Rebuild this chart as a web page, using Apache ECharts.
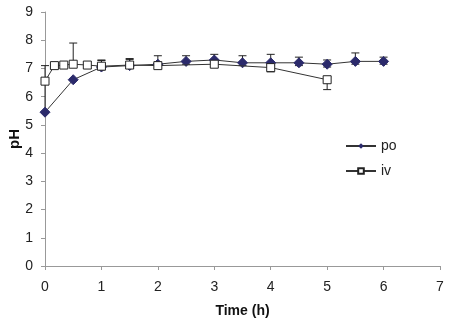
<!DOCTYPE html>
<html><head><meta charset="utf-8">
<script src="https://cdn.jsdelivr.net/npm/echarts@6/dist/echarts.min.js"></script>
<style>html,body{margin:0;padding:0;background:#fff}#c{width:450px;height:322px}</style>
</head><body><div id="c"></div>
<script>
const xTicks = [0,1,2,3,4,5,6,7];
const yTicks = [0,1,2,3,4,5,6,7,8,9];
const poTime = [0,0.5,1,1.5,2,2.5,3,3.5,4,4.5,5,5.5,6];
const poPH   = [5.45,6.6,7.05,7.1,7.15,7.25,7.3,7.2,7.2,7.2,7.15,7.25,7.25];
const poErrUp   = [1.1,0,0.25,0.25,0.3,0.2,0.2,0.25,0.3,0.2,0.15,0.3,0.15];
const poErrDown = [0,0,0.1,0.1,0.1,0.1,0.1,0.1,0.1,0.1,0.1,0.1,0.1];
const ivTime = [0,0.167,0.333,0.5,0.75,1,1.5,2,3,4,5];
const ivPH   = [6.55,7.1,7.12,7.15,7.12,7.08,7.12,7.1,7.15,7.03,6.6];
const ivErrUp   = [0.55,0,0,0.75,0,0.2,0.2,0.1,0.1,0.1,0.1];
const ivErrDown = [0,0,0,0,0,0.1,0.1,0.1,0.1,0.15,0.35];

function errData(t, v, up, dn){ return t.map((x,i)=>[x, v[i]-dn[i], v[i]+up[i], up[i], dn[i]]); }
function errRender(params, api){
  const x = api.value(0), lo = api.value(1), hi = api.value(2), up = api.value(3), dn = api.value(4);
  if (up===0 && dn===0) return;
  const pLo = api.coord([x, lo]), pHi = api.coord([x, hi]);
  const w = 4;
  const st = {stroke:'#222', lineWidth:1};
  const ch = [{type:'line', shape:{x1:pLo[0],y1:pLo[1],x2:pHi[0],y2:pHi[1]}, style:st}];
  if (up>0) ch.push({type:'line', shape:{x1:pHi[0]-w,y1:pHi[1],x2:pHi[0]+w,y2:pHi[1]}, style:st});
  if (dn>0) ch.push({type:'line', shape:{x1:pLo[0]-w,y1:pLo[1],x2:pLo[0]+w,y2:pLo[1]}, style:st});
  return {type:'group', children:ch};
}
const chart = echarts.init(document.getElementById('c'));
const font = 'Liberation Sans, Arial, sans-serif';
chart.setOption({
  animation:false,
  grid:{left:45,right:10,top:12,bottom:56,outerBoundsMode:'none',containLabel:false},
  legend:{
    orient:'vertical', left:340, top:134, itemGap:11, itemWidth:30, itemHeight:7,
    textStyle:{fontFamily:font,fontSize:14,color:'#222'},
    data:['po','iv']
  },
  graphic:[{
    type:'text', x:15, y:139, rotation:Math.PI/2,
    style:{text:'pH', font:'bold 15px Liberation Sans, Arial, sans-serif', fill:'#111', align:'center', verticalAlign:'middle'}
  }],
  xAxis:{
    type:'value', min:0, max:7, interval:1,
    name:'Time (h)', nameLocation:'middle', nameGap:38,
    nameTextStyle:{fontFamily:font,fontSize:14,fontWeight:'bold',color:'#111'},
    axisLine:{lineStyle:{color:'#999'}},
    axisTick:{show:true,length:4,lineStyle:{color:'#999'}},
    axisLabel:{fontFamily:font,fontSize:14,color:'#222',margin:14},
    splitLine:{show:false}
  },
  yAxis:{
    type:'value', min:0, max:9, interval:1,
    axisLine:{show:true,lineStyle:{color:'#999'}},
    axisTick:{show:true,length:4,lineStyle:{color:'#999'}},
    axisLabel:{fontFamily:font,fontSize:14,color:'#222',margin:12},
    splitLine:{show:false}
  },
  series:[
    {type:'custom', renderItem:errRender, data:errData(poTime,poPH,poErrUp,poErrDown), z:1, silent:true},
    {type:'custom', renderItem:errRender, data:errData(ivTime,ivPH,ivErrUp,ivErrDown), z:1, silent:true},
    {name:'po', type:'line', data:poTime.map((t,i)=>[t,poPH[i]]), symbol:'diamond', symbolSize:10,
     lineStyle:{color:'#333',width:1}, itemStyle:{color:'#2b2a6b',borderColor:'#2b2a6b'}, z:3},
    {name:'iv', type:'line', data:ivTime.map((t,i)=>[t,ivPH[i]]), symbol:'rect', symbolSize:8,
     lineStyle:{color:'#333',width:1}, itemStyle:{color:'#fff',borderColor:'#222',borderWidth:1}, z:4}
  ]
});
</script></body></html>
